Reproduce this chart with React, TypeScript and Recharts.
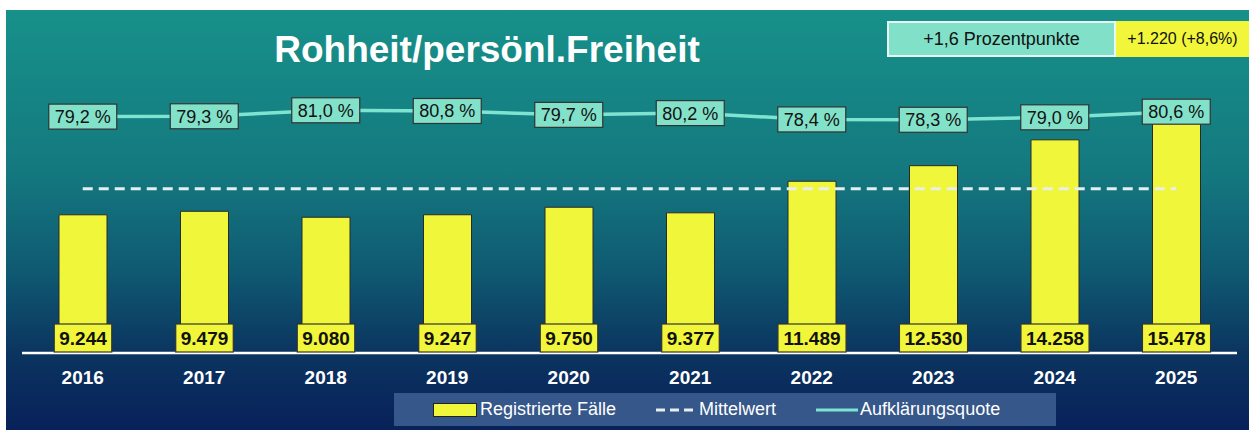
import { ComposedChart, Bar, Line, XAxis, YAxis, ReferenceLine, LabelList } from 'recharts';

const years = ['2016', '2017', '2018', '2019', '2020', '2021', '2022', '2023', '2024', '2025'];
const cases = [9244, 9479, 9080, 9247, 9750, 9377, 11489, 12530, 14258, 15478];
const clearance = [79.2, 79.3, 81.0, 80.8, 79.7, 80.2, 78.4, 78.3, 79.0, 80.6];
const meanCases = 10993;

const data = years.map((year, i) => ({ year, cases: cases[i], rate: clearance[i] }));

const fmtInt = (v: number) => String(v).replace(/\B(?=(\d{3})+(?!\d))/g, '.');
const fmtRate = (v: number) => v.toFixed(1).replace('.', ',') + ' %';

const font = 'Arial, "Liberation Sans", sans-serif';

const CaseLabel = (props: any) => {
  const { x, y, width, height, value } = props;
  const text = fmtInt(value);
  const w = (text.length - 1) * 0.556 * 19 + 0.278 * 19 + 10;
  const cx = x + width / 2;
  const bottom = y + height - 1;
  return (
    <g>
      <rect x={cx - w / 2} y={bottom - 28} width={w} height={28} fill="#f2f63a" stroke="#333" strokeWidth={1.2} />
      <text x={cx} y={bottom - 7} textAnchor="middle" fontFamily={font} fontWeight="bold" fontSize={19} fill="#111">
        {text}
      </text>
    </g>
  );
};

const RateLabel = (props: any) => {
  const { x, y, value } = props;
  return (
    <g>
      <rect x={x - 34} y={y - 12.5} width={68} height={25} fill="#82e2c9" stroke="#333" strokeWidth={1.2} />
      <text x={x} y={y + 6.5} textAnchor="middle" fontFamily={font} fontSize={18} fill="#111">
        {fmtRate(value)}
      </text>
    </g>
  );
};

export default function App() {
  return (
    <div
      style={{
        position: 'absolute',
        left: 6,
        top: 10,
        width: 1243,
        height: 420,
        background: 'linear-gradient(to bottom, #17918a 0%, #14797f 38%, #0f5a72 62%, #0b345f 82%, #08215a 100%)',
        fontFamily: font,
      }}
    >
      <div
        style={{
          position: 'absolute',
          left: 231,
          width: 500,
          top: 21,
          textAlign: 'center',
          color: '#fff',
          fontWeight: 'bold',
          fontSize: 37,
          lineHeight: 1,
        }}
      >
        Rohheit/persönl.Freiheit
      </div>
      <div
        style={{
          position: 'absolute',
          left: 881,
          top: 11,
          width: 229,
          height: 36,
          boxSizing: 'border-box',
          background: '#80e0c8',
          border: '2px solid #e8f8f4',
          display: 'flex',
          alignItems: 'center',
          justifyContent: 'center',
          fontSize: 18,
          color: '#111',
        }}
      >
        +1,6 Prozentpunkte
      </div>
      <div
        style={{
          position: 'absolute',
          left: 1110,
          top: 11,
          width: 133,
          height: 36,
          background: '#f2f63a',
          display: 'flex',
          alignItems: 'center',
          justifyContent: 'center',
          fontSize: 16,
          color: '#111',
        }}
      >
        +1.220 (+8,6%)
      </div>

      <ComposedChart width={1243} height={420} data={data} margin={{ top: 44, right: 12, left: 16, bottom: 47 }}>
        <XAxis
          dataKey="year"
          axisLine={{ stroke: '#ffffff', strokeWidth: 2.5 }}
          tickLine={false}
          tickMargin={12}
          height={30}
          tick={{ fill: '#ffffff', fontSize: 19, fontWeight: 'bold', fontFamily: font }}
        />
        <YAxis yAxisId="cases" hide domain={[0, 20000]} />
        <YAxis yAxisId="rate" hide orientation="right" domain={[12, 97]} />
        <ReferenceLine
          yAxisId="cases"
          segment={[{ x: years[0], y: meanCases }, { x: years[years.length - 1], y: meanCases }]}
          position="middle"
          stroke="#e6eef0"
          strokeWidth={3}
          strokeDasharray="10 6"
        />
        <Bar yAxisId="cases" dataKey="cases" barSize={48} fill="#f0f63a" stroke="#2a2a2a" strokeWidth={1} isAnimationActive={false}>
          <LabelList dataKey="cases" content={CaseLabel} />
        </Bar>
        <Line
          yAxisId="rate"
          dataKey="rate"
          type="linear"
          stroke="#7fe3d2"
          strokeWidth={3.5}
          dot={false}
          activeDot={false}
          isAnimationActive={false}
        >
          <LabelList dataKey="rate" content={RateLabel} />
        </Line>
      </ComposedChart>

      <div
        style={{
          position: 'absolute',
          left: 388,
          top: 383,
          width: 662,
          height: 33,
          background: '#36578a',
          display: 'flex',
          alignItems: 'center',
          color: '#fff',
          fontSize: 18,
          whiteSpace: 'nowrap',
        }}
      >
        <span style={{ marginLeft: 39, width: 44, height: 14, background: '#f0f63a', border: '1px solid #222', boxSizing: 'border-box' }} />
        <span style={{ marginLeft: 3 }}>Registrierte Fälle</span>
        <svg width={40} height={6} style={{ marginLeft: 40 }}>
          <line x1={0} y1={3} x2={40} y2={3} stroke="#e6eef0" strokeWidth={3} strokeDasharray="9 5" />
        </svg>
        <span style={{ marginLeft: 3 }}>Mittelwert</span>
        <svg width={42} height={6} style={{ marginLeft: 40 }}>
          <line x1={0} y1={3} x2={42} y2={3} stroke="#7fe3d2" strokeWidth={3} />
        </svg>
        <span style={{ marginLeft: 2 }}>Aufklärungsquote</span>
      </div>
    </div>
  );
}
